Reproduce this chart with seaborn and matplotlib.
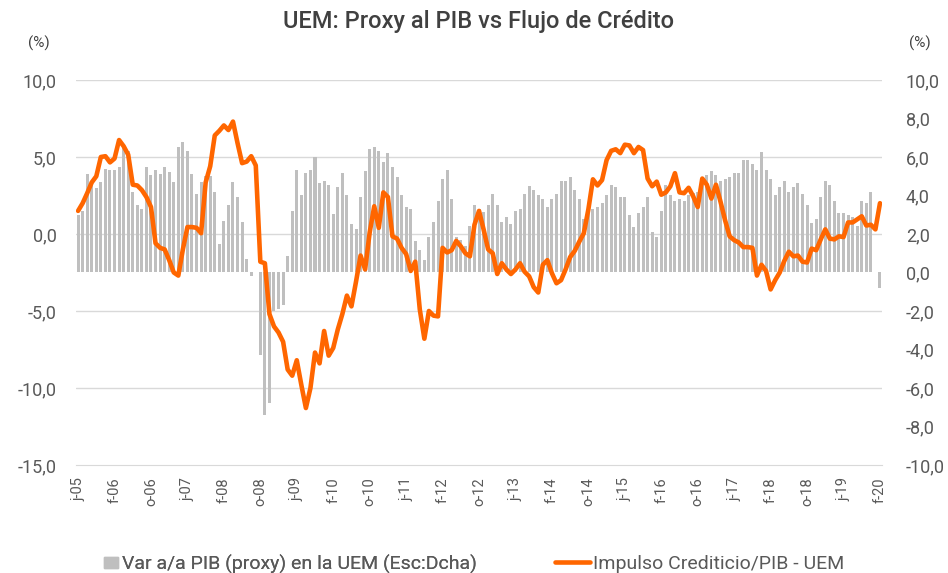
import numpy as np
import pandas as pd
import matplotlib
matplotlib.use('Agg')
import matplotlib.pyplot as plt
import seaborn as sns
from matplotlib.patches import Patch
from matplotlib.lines import Line2D

# Serie mensual desde junio 2005 hasta febrero 2020
inicio = '2005-06-01'

# Var a/a PIB (proxy) en la UEM, escala derecha (%)
pib = [3.0, 3.2, 5.1, 4.7, 4.4, 4.7, 5.4, 5.3, 5.35, 5.5,
       6.6, 6.3, 4.2, 3.5, 3.3, 5.5, 5.05, 5.35, 5.1, 5.5,
       5.2, 4.7, 6.5, 6.8, 6.3, 5.1, 4.1, 4.7, 5.0, 5.0,
       4.2, 1.5, 2.7, 3.5, 4.7, 3.9, 2.6, 0.7, -0.2, np.nan,
       -4.3, -7.4, -6.8, -2.0, -1.9, -1.7, 0.85, 3.2, 5.3, 4.0,
       5.15, 5.3, 6.0, 4.65, 4.75, 4.55, 3.05, 4.45, 5.15, 4.0,
       2.5, 2.25, 3.9, 5.25, 6.4, 6.5, 6.3, 5.75, 6.2, 5.5,
       4.95, 4.0, 3.4, 3.3, 1.65, 1.15, 0.65, 1.85, 2.6, 3.7,
       4.85, 5.3, 3.8, 1.85, 1.7, 1.4, 2.4, 3.5, 3.3, 3.15,
       3.5, 4.1, 3.5, 2.6, 2.9, 2.5, 3.2, 3.3, 4.1, 4.5,
       4.3, 4.0, 3.8, 3.4, 3.8, 4.1, 4.75, 4.75, 4.95, 4.3,
       3.8, 2.8, 3.2, 3.3, 3.4, 3.6, 4.0, 4.55, 4.45, 3.9,
       3.9, 3.0, 2.35, 3.1, 3.4, 3.9, 2.1, 1.85, 3.2, 4.55,
       4.0, 3.7, 3.8, 3.7, 4.05, 4.15, 4.2, 4.7, 5.05, 5.25,
       5.05, 4.75, 4.85, 4.95, 5.15, 5.15, 5.85, 5.85, 5.65, 5.35,
       6.25, 5.35, 4.85, 4.0, 4.45, 4.75, 4.2, 4.45, 4.65, 4.1,
       3.5, 2.55, 2.8, 3.9, 4.75, 4.55, 3.7, 3.1, 3.1, 3.0,
       2.9, 2.4, 3.7, 3.6, 4.2, np.nan, -0.8]

# Impulso Crediticio/PIB - UEM, escala izquierda (%)
credito = [1.5, 2.0, 2.65, 3.35, 3.75, 5.0, 5.05, 4.65, 4.9, 6.1,
           5.7, 5.15, 3.2, 3.15, 2.85, 2.4, 1.75, -0.6, -0.9, -1.0,
           -1.7, -2.5, -2.7, -1.0, 0.45, 0.45, 0.4, 0.05, 3.35, 4.4,
           6.4, 6.7, 7.05, 6.75, 7.3, 5.9, 4.6, 4.7, 5.05, 4.45,
           -1.8, -1.9, -5.2, -6.0, -6.4, -7.0, -8.8, -9.2, -8.2, -9.8,
           -11.3, -10.0, -7.7, -8.4, -6.3, -7.9, -7.4, -6.2, -5.2, -4.0,
           -4.7, -3.1, -1.4, -2.3, 0.1, 1.8, 0.4, 2.7, 2.4, -0.15,
           -0.3, -0.9, -1.3, -2.4, -1.8, -4.9, -6.8, -5.0, -5.3, -5.35,
           -0.9, -1.2, -1.05, -0.45, -0.8, -1.25, -1.45, 0.6, 1.5, 0.3,
           -1.0, -1.25, -2.6, -1.9, -2.3, -2.6, -2.3, -1.9, -2.45, -2.75,
           -3.45, -3.8, -2.0, -1.7, -2.55, -3.2, -3.0, -2.3, -1.5, -1.1,
           -0.5, 0.05, 1.6, 3.55, 3.15, 3.5, 4.8, 5.4, 5.5, 5.25,
           5.8, 5.75, 5.25, 5.65, 5.45, 3.6, 3.1, 3.4, 2.55, 2.7,
           3.1, 3.95, 2.7, 2.65, 3.0, 2.45, 1.75, 3.6, 3.2, 2.3,
           3.2, 2.1, 0.9, -0.15, -0.4, -0.55, -0.85, -0.85, -0.9, -2.7,
           -2.0, -2.4, -3.6, -3.0, -2.5, -1.75, -1.15, -1.45, -1.4, -1.8,
           -1.85, -0.95, -1.05, -0.35, 0.3, -0.3, -0.35, -0.15, -0.2, 0.75,
           0.75, 0.95, 1.15, 0.55, 0.6, 0.3, 2.0]

meses = ['e', 'f', 'm', 'a', 'm', 'j', 'j', 'a', 's', 'o', 'n', 'd']
ticks_izq = [-15, -10, -5, 0, 5, 10]
ticks_dch = [-10, -8, -6, -4, -2, 0, 2, 4, 6, 8, 10]

fechas = pd.date_range(inicio, periods=len(pib), freq='MS')
df = pd.DataFrame({'idx': np.arange(len(pib)), 'fecha': fechas,
                   'pib': pib, 'credito': credito})

sns.set_style('white')
plt.rcParams['font.family'] = ['Roboto', 'DejaVu Sans']

gris_txt = '#595959'
fig = plt.figure(figsize=(9.48, 5.73), dpi=100)
ax = fig.add_axes([0.0802, 0.1885, 0.8502, 0.6719])
ax_r = ax.twinx()
ax.set_zorder(ax_r.get_zorder() + 1)
ax.patch.set_visible(False)

# lineas de rejilla (ligadas a la escala izquierda) detras de las barras
l0, l1 = ticks_izq[0], ticks_izq[-1]
r0, r1 = ticks_dch[0], ticks_dch[-1]
for t in ticks_izq[1:]:
    ax_r.axhline(r0 + (t - l0) * (r1 - r0) / (l1 - l0), color='#d9d9d9', lw=1, zorder=0)

sns.barplot(data=df.dropna(subset=['pib']), x='idx', y='pib', native_scale=True,
            color='#bfbfbf', saturation=1, width=0.66, errorbar=None, ax=ax_r,
            edgecolor='none', linewidth=0, zorder=2)
sns.lineplot(data=df, x='idx', y='credito', color='#ff6600', linewidth=3.3, ax=ax)

ax.set_xlim(-0.45, len(pib) - 0.55)
ax.set_ylim(l0, l1)
ax_r.set_ylim(r0, r1)

ax.set_yticks(ticks_izq)
ax.set_yticklabels([f'{v:.1f}'.replace('.', ',') for v in ticks_izq])
ax_r.set_yticks(ticks_dch)
ax_r.set_yticklabels([f'{v:.1f}'.replace('.', ',') for v in ticks_dch])

pos = list(range(0, len(pib), 8))
ax.set_xticks(pos)
ax.set_xticklabels([f'{meses[fechas[p].month - 1]}-{fechas[p]:%y}' for p in pos])

ax.tick_params(axis='x', length=0, pad=9, rotation=90, labelsize=10.5, labelcolor=gris_txt)
ax.tick_params(axis='y', length=0, pad=14, labelsize=13, labelcolor=gris_txt)
ax_r.tick_params(axis='y', length=0, pad=17, labelsize=13, labelcolor=gris_txt)
ax_r.tick_params(axis='x', length=0)

for a in (ax, ax_r):
    a.set_xlabel('')
    a.set_ylabel('')
    for s in a.spines.values():
        s.set_visible(False)
ax.spines['bottom'].set_visible(True)
ax.spines['bottom'].set_color('#d9d9d9')

fig.text(0.505, 0.962, 'UEM: Proxy al PIB vs Flujo de Crédito', ha='center', va='center',
         fontsize=17, color='#404040', fontweight='medium')
fig.text(0.041, 0.925, '(%)', ha='center', va='center', fontsize=11, color='#404040')
fig.text(0.970, 0.925, '(%)', ha='center', va='center', fontsize=11, color='#404040')

ley1 = fig.legend(handles=[Patch(color='#bfbfbf', label='Var a/a PIB (proxy) en la UEM (Esc:Dcha)')],
                  loc='center left', bbox_to_anchor=(104 / 948, 1 - 564 / 573), frameon=False,
                  handlelength=0.72, handleheight=0.55, handletextpad=0.2, borderpad=0,
                  borderaxespad=0, prop={'size': 14}, labelcolor=gris_txt)
fig.legend(handles=[Line2D([], [], color='#ff6600', lw=3.3, label='Impulso Crediticio/PIB - UEM')],
           loc='center left', bbox_to_anchor=(555 / 948, 1 - 564 / 573), frameon=False,
           handlelength=1.8, handletextpad=0.15, borderpad=0, borderaxespad=0,
           prop={'size': 14}, labelcolor=gris_txt)
fig.add_artist(ley1)

fig.savefig('out.png', dpi=100)
